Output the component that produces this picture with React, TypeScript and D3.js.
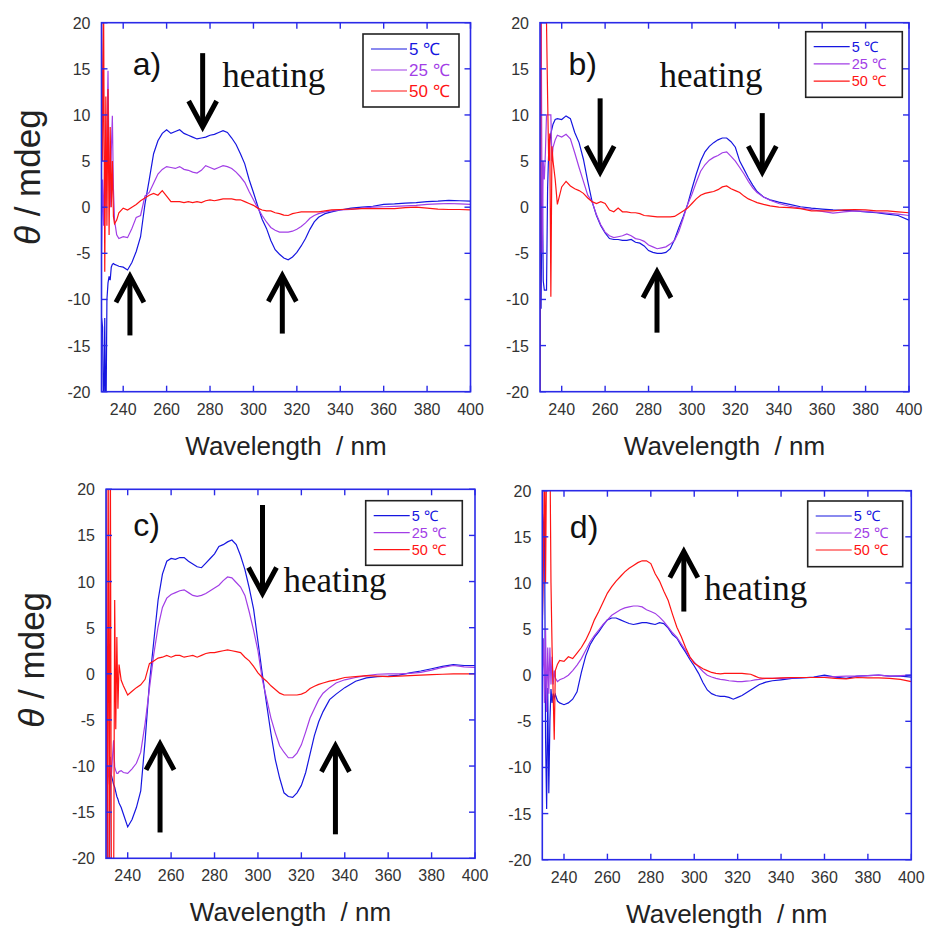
import * as d3 from 'd3';

// wavelength grid shared by every trace (nm)
const WAVELENGTH = [
  230, 230.5, 231, 231.5, 232, 232.5, 233, 233.5, 234, 234.5, 235, 235.5, 236, 237, 238,
  240, 242, 244, 246, 248, 250, 252, 254, 256, 258,
  260, 262, 264, 266, 268, 270, 272, 274, 276, 278,
  280, 282, 284, 286, 288, 290, 292, 294, 296, 298,
  300, 302, 304, 306, 308, 310, 312, 314, 316, 318,
  320, 322, 324, 326, 328, 330,
  333, 336,
  340, 345, 350, 355, 360, 365, 370, 375, 380, 385, 390, 395, 400,
];

// panel a)
const A_5C = [
  -12, -13, -25, -12, -25, -10, -8.2, -7.5, -7.9, -6.5, -6.2, -6.1, -6.2, -6.3, -6.4,
  -6.5, -6.8, -6.0, -4.8, -3.2, 0.3, 3.0, 5.8, 7.2, 8.0,
  8.4, 8.0, 8.2, 8.4, 8.0, 7.8, 7.6, 7.4, 7.5, 7.6,
  7.8, 7.9, 8.1, 8.3, 8.1, 7.5, 6.8, 5.8, 4.7, 3.0,
  1.6, 0.1, -1.3, -2.3, -3.6, -4.6, -5.1, -5.5, -5.7, -5.4,
  -4.9, -4.2, -3.4, -2.4, -1.6, -1.1,
  -0.7, -0.5,
  -0.3, -0.1, 0, 0.1, 0.3, 0.35, 0.45, 0.5, 0.6, 0.65, 0.75, 0.7, 0.65,
];
const A_25C = [
  -5, 3, -2, 5, 0, 8, 14.8, 4, 0, 6, 9.9, 2, -1.4, -3.0, -3.4,
  -3.2, -3.3, -2.3, -1.1, -0.9, 1.2, 1.6, 2.6, 3.6, 4.1,
  4.4, 4.3, 4.2, 4.4, 4.1, 4.0, 3.8, 3.7, 4.0, 4.5,
  4.3, 4.1, 4.3, 4.5, 4.4, 4.2, 3.8, 3.3, 2.7, 1.7,
  0.8, -0.1, -0.9, -1.6, -2.2, -2.5, -2.7, -2.7, -2.7, -2.6,
  -2.4, -2.1, -1.7, -1.2, -0.9, -0.7,
  -0.5, -0.4,
  -0.3, -0.25, -0.1, 0, 0.05, 0.1, 0.15, 0.2, 0.3, 0.35, 0.4, 0.35, 0.3,
];
const A_50C = [
  25, 5, 20, -7, 12, -2, 12.8, -3, 8.7, 0, 5, -1, -1.8, -1.4, -0.6,
  -0.1, -0.3, 0, 0.3, 0.7, 1.0, 1.3, 1.5, 1.3, 1.8,
  1.2, 0.6, 0.6, 0.6, 0.5, 0.6, 0.5, 0.6, 0.5, 0.7,
  0.8, 0.7, 0.8, 0.9, 0.9, 0.9, 0.8, 0.8, 0.6, 0.4,
  0.2, -0.1, -0.3, -0.4, -0.4, -0.6, -0.7, -0.85, -0.9, -0.7,
  -0.6, -0.5, -0.5, -0.5, -0.5, -0.5,
  -0.4, -0.3,
  -0.25, -0.2, -0.15, -0.15, -0.15, -0.15, -0.05, 0, -0.1, -0.2, -0.25, -0.25, -0.3,
];

// panel b)
const B_5C = [
  15, -11, 5, -8, -9, -9, -9, 2, 6, 7, 8, 8.5, 9, 9.5, 9.6,
  9.5, 9.9, 9.6, 8.1, 7.0, 5.2, 2.8, 0.6, -0.9, -2.0,
  -2.8, -3.4, -3.5, -3.5, -3.6, -3.6, -3.5, -3.8, -3.9, -4.2,
  -4.7, -4.9, -5.0, -5.0, -4.9, -4.5, -3.5, -2.2, -1.0, 0.3,
  2.0, 3.6, 5.0, 6.0, 6.6, 7.0, 7.3, 7.5, 7.5, 7.1,
  6.5, 5.0, 4.1, 3.2, 2.4, 1.7,
  1.1, 0.8,
  0.55, 0.3, 0.05, -0.1, -0.2, -0.3, -0.35, -0.4, -0.5, -0.6, -0.75, -0.9, -1.4,
];
const B_25C = [
  25, 25, -5, 5, 3, 6, 10, 10, 10, 10, 10, 5, 6.5, 7.3, 7.8,
  7.6, 7.9, 7.4, 5.9, 4.3, 2.8, 1.3, 0.6, -0.8, -1.9,
  -2.7, -3.1, -3.3, -3.2, -3.1, -2.9, -3.1, -3.4, -3.5, -3.7,
  -4.1, -4.3, -4.5, -4.4, -4.3, -4.0, -3.6, -2.6, -1.2, 0.3,
  1.4, 2.7, 3.9, 4.6, 5.1, 5.4, 5.6, 5.9, 6.0, 5.5,
  5.0, 4.3, 3.6, 2.8, 2.1, 1.6,
  1.1, 0.75,
  0.4, 0.1, -0.1, -0.25, -0.45, -0.65, -0.5, -0.4, -0.45, -0.55, -0.65, -0.75, -0.9,
];
const B_50C = [
  -25, 25, 25, 25, 25, 25, 20, 12, 5, 8, -9.7, 6.6, 5, 3, 0.3,
  2.2, 2.8, 2.3, 2.0, 1.8, 1.5, 1.0, 0.6, 0.4, 0.6,
  0.4, -0.3, -0.5, -0.1, -0.5, -0.5, -0.6, -0.6, -0.7, -0.9,
  -0.95, -1.0, -1.05, -1.05, -1.05, -1.05, -1.0, -0.7, -0.4, -0.1,
  0.4, 0.9, 1.3, 1.5, 1.6, 1.7, 1.9, 2.2, 2.3, 2.0,
  1.8, 1.6, 1.2, 0.9, 0.7, 0.5,
  0.3, 0.15,
  0, -0.05, -0.15, -0.4, -0.4, -0.4, -0.3, -0.25, -0.3, -0.4, -0.4, -0.5, -0.6,
];

// panel c)
const C_5C = [
  5.8, -8, -25, -25, -10, -11, -11.5, -12, -12.3, -12.8, -13.3, -13.6, -14, -14.5, -15.2,
  -16.6, -15.8, -14.5, -12.7, -7.3, -1.0, 3.5, 8.0, 10.8, 12.2,
  12.5, 12.4, 12.6, 12.6, 12.2, 11.9, 11.6, 11.5, 12.0, 12.5,
  13.0, 13.8, 14.0, 14.3, 14.5, 14.0, 12.8, 11.3, 9.3, 7.0,
  3.5, 0, -3.3, -6.5, -9.3, -11.3, -12.9, -13.3, -13.4, -12.9,
  -12.1, -10.7, -8.7, -6.7, -5.2, -4.1,
  -2.8, -2.2,
  -1.5, -0.8, -0.45, -0.3, -0.25, -0.15, 0.1, 0.3, 0.55, 0.8, 1.0, 0.9, 0.9,
];
const C_25C = [
  -8, -12, -10, -12, -9, -11, -9, -7.2, -10.1, -10.5, -10.8, -10.8, -10.6, -10.5, -10.7,
  -10.8, -10.3, -9.7, -8.5, -5.4, -1.6, 2.1, 5.1, 7.2, 8.2,
  8.6, 8.8, 9.0, 9.1, 8.8, 8.5, 8.4, 8.5, 8.7, 9.0,
  9.3, 9.6, 10.1, 10.5, 10.4, 9.9, 9.4, 8.5, 6.7, 4.7,
  2.5, -0.6, -2.7, -4.8, -6.4, -7.8, -8.5, -9.1, -9.1, -8.6,
  -7.7, -6.3, -4.8, -3.8, -2.8, -2.1,
  -1.5, -1.0,
  -0.65, -0.4, -0.2, -0.05, 0, 0, 0.05, 0.15, 0.4, 0.7, 0.9, 0.75, 0.7,
];
const C_50C = [
  25, -25, 25, -25, 25, -25, -25, -25, 8, -6, 4, -3.8, 1, -0.7, -1.3,
  -2.3, -1.9, -1.5, -1.2, -0.6, 1.1, 1.4, 1.7, 1.8, 2.0,
  1.8, 2.0, 2.0, 1.8, 1.9, 2.0, 1.8, 2.0, 2.2, 2.3,
  2.3, 2.4, 2.5, 2.6, 2.5, 2.4, 2.3, 1.8, 1.4, 0.8,
  0.1, -0.4, -0.8, -1.3, -1.7, -2.1, -2.3, -2.3, -2.3, -2.3,
  -2.2, -2.0, -1.6, -1.35, -1.15, -1.0,
  -0.8, -0.65,
  -0.4, -0.3, -0.2, -0.25, -0.3, -0.25, -0.2, -0.15, -0.1, -0.05, 0, 0, 0,
];

// panel d)
const D_5C = [
  5, 16.3, 17.5, -6.8, -14.5, -1.4, -12.8, -5, -1.5, -3, -2, -2.5, -2.1, -2.8, -3.0,
  -3.2, -3.0, -2.6, -1.8, 0.3, 2.1, 3.3, 4.1, 4.7, 5.4,
  6.0, 6.2, 6.2, 6.0, 5.8, 5.6, 5.5, 5.6, 5.7, 5.7,
  5.6, 5.5, 5.7, 5.6, 5.1, 4.4, 4.0, 3.2, 2.5, 1.7,
  1.0, 0.2, -0.8, -1.6, -2.0, -2.2, -2.3, -2.3, -2.4, -2.6,
  -2.4, -2.2, -1.9, -1.6, -1.3, -1.0,
  -0.75, -0.6,
  -0.5, -0.35, -0.3, -0.2, 0, -0.2, -0.35, -0.1, -0.05, 0, -0.1, -0.1, -0.2,
];
const D_25C = [
  0, 4, -3, 5, -4, 3, -2, 3, -1, 2, -1, 0.5, -0.3, -0.7, -0.5,
  -0.3, 0, 0.5, 1.1, 1.8, 2.7, 3.6, 4.3, 4.9, 5.5,
  6.0, 6.5, 6.8, 7.1, 7.3, 7.4, 7.5, 7.5, 7.4, 7.1,
  6.9, 6.7, 6.3, 5.8, 5.2, 4.6, 4.1, 3.4, 2.7, 1.9,
  1.4, 0.9, 0.4, 0, -0.2, -0.35, -0.45, -0.5, -0.6, -0.65,
  -0.7, -0.7, -0.65, -0.6, -0.5, -0.45,
  -0.35, -0.35,
  -0.35, -0.3, -0.25, -0.25, -0.2, -0.15, -0.1, -0.1, -0.05, 0, -0.1, -0.05, 0,
];
const D_50C = [
  5, 12, 25, 10, 25, 25, 25, 25, 10, 3, -2, -7, 0.5, 1.2, 1.6,
  1.5, 2.0, 1.8, 2.4, 3.0, 3.8, 4.8, 6.0, 6.9, 7.9,
  8.9, 9.6, 10.2, 10.7, 11.2, 11.6, 11.9, 12.2, 12.4, 12.4,
  12.1, 11.0, 10.2, 9.1, 8.1, 6.6, 5.2, 4.2, 3.0, 2.0,
  1.3, 1.0, 0.7, 0.5, 0.3, 0.2, 0.15, 0.2, 0.2, 0.2,
  0.2, 0.2, 0.15, 0.1, -0.1, -0.3,
  -0.35, -0.35,
  -0.3, -0.25, -0.25, -0.25, -0.25, -0.35, -0.4, -0.25, -0.3, -0.3, -0.35, -0.45, -0.7,
];

const X_TICKS = [240, 260, 280, 300, 320, 340, 360, 380, 400];
const Y_TICKS = [-20, -15, -10, -5, 0, 5, 10, 15, 20];
const SERIES_LABELS = ['5 \u2103', '25 \u2103', '50 \u2103'];
const SERIES_COLORS = ['#1616e0', '#a23ee6', '#ff1414'];

const PLOT_W = 369;
const PLOT_H = 369;
const AXIS_COLOR = '#2a2ae8';
const SANS = '"Liberation Sans", Arial, sans-serif';
const SERIF = '"Liberation Serif", "Times New Roman", serif';

// layout + annotations per panel (annotation positions in data units)
const PANELS = [
  {
    key: 'a', label: 'a)', left: 101.5, top: 22.7,
    series: [A_5C, A_25C, A_50C],
    yTitleDy: -30,
    legend: { dx: 261.5, dy: 11.3, w: 96, h: 73, row: 21, font: 17 },
    labelAt: [244.4, 14.35],
    heatingAt: [285.6, 13.0],
    arrows: [[276.6, 16.7, 8.7], [243.1, -13.9, -7.5], [313.3, -13.7, -7.4]],
  },
  {
    key: 'b', label: 'b)', left: 540, top: 22.7,
    series: [B_5C, B_25C, B_50C],
    yTitleDy: null,
    legend: { dx: 265.7, dy: 9, w: 96.6, h: 65.6, row: 17.2, font: 14.5 },
    labelAt: [243.1, 14.35],
    heatingAt: [285, 13.0],
    arrows: [[257.7, 11.8, 3.8], [332.4, 10.2, 3.8], [283.9, -13.6, -7.0]],
  },
  {
    key: 'c', label: 'c)', left: 106, top: 489.3,
    series: [C_5C, C_25C, C_50C],
    yTitleDy: -14,
    legend: { dx: 259.7, dy: 11.4, w: 96.6, h: 64.6, row: 17, font: 14.5 },
    labelAt: [242.6, 14.9],
    heatingAt: [311.8, 8.9],
    arrows: [[302.1, 18.3, 8.7], [254.9, -17.2, -7.6], [335.7, -17.4, -7.8]],
  },
  {
    key: 'd', label: 'd)', left: 542.3, top: 490.7,
    series: [D_5C, D_25C, D_50C],
    yTitleDy: null,
    legend: { dx: 265.4, dy: 10.3, w: 95, h: 65.7, row: 17, font: 14.5 },
    labelAt: [242.7, 14.9],
    heatingAt: [304.6, 8.1],
    arrows: [[295.2, 6.9, 13.4]],
  },
];

const Arrow = ({ x, y0, y1 }: { x: number; y0: number; y1: number }) => {
  const dir = y1 > y0 ? 1 : -1;
  const head = `M${x - 14},${y1 - dir * 26} L${x},${y1} L${x + 14},${y1 - dir * 26}`;
  return (
    <g stroke="#000" strokeWidth={5} fill="none">
      <line x1={x} y1={y0} x2={x} y2={y1 - dir * 3} />
      <path d={head} strokeLinejoin="miter" strokeMiterlimit={10} />
    </g>
  );
};

const Panel = ({ cfg }: { cfg: any }) => {
  const x = d3.scaleLinear().domain([230, 400]).range([0, PLOT_W]);
  const y = d3.scaleLinear().domain([-20, 20]).range([PLOT_H, 0]);
  const line = d3
    .line<number>()
    .x((_, i) => x(WAVELENGTH[i]))
    .y((d) => y(d));
  const clipId = `clip-${cfg.key}`;
  const lg = cfg.legend;

  return (
    <g transform={`translate(${cfg.left}, ${cfg.top})`}>
      <defs>
        <clipPath id={clipId}>
          <rect x={0} y={0} width={PLOT_W} height={PLOT_H} />
        </clipPath>
      </defs>

      <g clipPath={`url(#${clipId})`}>
        {cfg.series.map((vals: number[], i: number) => (
          <path key={i} d={line(vals) || ''} fill="none" stroke={SERIES_COLORS[i]} strokeWidth={1.2} />
        ))}
      </g>

      {/* frame + inward ticks on all four sides */}
      <rect x={0} y={0} width={PLOT_W} height={PLOT_H} fill="none" stroke={AXIS_COLOR} strokeWidth={1.6} />
      {X_TICKS.map((t) => (
        <g key={`x${t}`} stroke={AXIS_COLOR} strokeWidth={1.4}>
          <line x1={x(t)} x2={x(t)} y1={PLOT_H} y2={PLOT_H - 6} />
          <line x1={x(t)} x2={x(t)} y1={0} y2={6} />
        </g>
      ))}
      {Y_TICKS.map((t) => (
        <g key={`y${t}`} stroke={AXIS_COLOR} strokeWidth={1.4}>
          <line x1={0} x2={6} y1={y(t)} y2={y(t)} />
          <line x1={PLOT_W} x2={PLOT_W - 6} y1={y(t)} y2={y(t)} />
        </g>
      ))}

      <g fontFamily={SANS} fontSize={16} fill="#333">
        {X_TICKS.map((t) => (
          <text key={`xl${t}`} x={x(t)} y={PLOT_H + 23} textAnchor="middle">{t}</text>
        ))}
        {Y_TICKS.map((t) => (
          <text key={`yl${t}`} x={-11} y={y(t) + 6} textAnchor="end">{t}</text>
        ))}
      </g>

      <text
        x={PLOT_W / 2}
        y={PLOT_H + 63}
        textAnchor="middle"
        fontFamily={SANS}
        fontSize={26}
        fill="#222"
        style={{ whiteSpace: 'pre' }}
      >
        {'Wavelength  / nm'}
      </text>
      {cfg.yTitleDy !== null && (
        <text
          transform={`translate(-62, ${PLOT_H / 2 + cfg.yTitleDy}) rotate(-90)`}
          textAnchor="middle"
          fontFamily={SANS}
          fontSize={35}
          fill="#222"
        >
          <tspan fontStyle="italic">{'\u03b8'}</tspan>
          {' / mdeg'}
        </text>
      )}

      {/* legend */}
      <g transform={`translate(${lg.dx}, ${lg.dy})`}>
        <rect x={0} y={0} width={lg.w} height={lg.h} fill="#fff" stroke="#222" strokeWidth={1.6} />
        {SERIES_LABELS.map((s, i) => {
          const cy = 15 + i * lg.row;
          return (
            <g key={s}>
              <line x1={8} x2={44} y1={cy} y2={cy} stroke={SERIES_COLORS[i]} strokeWidth={1.2} />
              <text x={46} y={cy + lg.font * 0.36} fontFamily={SANS} fontSize={lg.font} fill={SERIES_COLORS[i]}>{s}</text>
            </g>
          );
        })}
      </g>

      <text x={x(cfg.labelAt[0])} y={y(cfg.labelAt[1])} fontFamily={SANS} fontSize={32} fill="#111">
        {cfg.label}
      </text>
      <text x={x(cfg.heatingAt[0])} y={y(cfg.heatingAt[1])} fontFamily={SERIF} fontSize={35} fill="#111">
        heating
      </text>
      {cfg.arrows.map((a: number[], i: number) => (
        <Arrow key={i} x={x(a[0])} y0={y(a[1])} y1={y(a[2])} />
      ))}
    </g>
  );
};

export default function App() {
  return (
    <svg
      width={927}
      height={928}
      style={{ position: 'absolute', left: 0, top: 0, background: '#fff' }}
    >
      {PANELS.map((p) => (
        <Panel key={p.key} cfg={p} />
      ))}
    </svg>
  );
}
